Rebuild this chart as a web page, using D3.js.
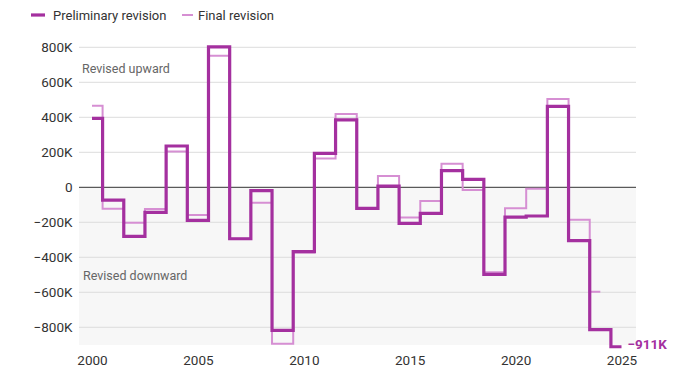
<!DOCTYPE html>
<html>
<head>
<meta charset="utf-8">
<script src="https://cdn.jsdelivr.net/npm/d3@7"></script>
<style>
  html, body { margin: 0; padding: 0; background: #fff; }
  svg { display: block; font-family: "Roboto", "Liberation Sans", sans-serif; }
</style>
</head>
<body>
<svg id="chart" width="682" height="378"></svg>
<script>
const years = d3.range(2000, 2026);
const preliminary = [394, -73, -280, -143, 236, -189, 803, -294, -19, -817,
  -368, 194, 385, -120, 7, -206, -149, 95, 45, -497,
  -170, -164, 463, -305, -813, -911];
const finalRev = [466, -122, -202, -124, 204, -158, 752, -294, -88, -894,
  -372, 165, 419, -120, 65, -173, -78, 135, -15, -486,
  -120, -8, 505, -185, -597];
const yTicks = [-800, -600, -400, -200, 0, 200, 400, 600, 800];
const xTicks = [2000, 2005, 2010, 2015, 2020, 2025];
const seriesNames = ["Preliminary revision", "Final revision"];

const svg = d3.select("#chart");
const plotLeft = 79, plotRight = 636, plotBottom = 345;

const x = d3.scaleLinear().domain([2000, 2025]).range([92, 621.5]);
const y = d3.scaleLinear().domain([-800, 800]).range([327.3, 47.3]);

const colPrelim = "#a4309f";
const colFinal = "#d68fd3";

// negative background
svg.append("rect")
  .attr("x", plotLeft).attr("y", y(0))
  .attr("width", plotRight - plotLeft).attr("height", plotBottom - y(0))
  .attr("fill", "#f7f7f7");

// gridlines
svg.append("g").selectAll("line").data(yTicks.filter(d => d !== 0)).join("line")
  .attr("x1", plotLeft).attr("x2", plotRight)
  .attr("y1", d => y(d)).attr("y2", d => y(d))
  .attr("stroke", "#dcdcdc").attr("stroke-width", 1);

// y labels
const yAxis = d3.axisLeft(y).tickValues(yTicks)
  .tickFormat(d => d === 0 ? "0" : (d < 0 ? "\u2212" : "") + Math.abs(d) + "K")
  .tickSize(0).tickPadding(0);
const gy = svg.append("g").attr("transform", `translate(72.5,0)`).call(yAxis);
gy.select(".domain").remove();
gy.selectAll("text").attr("font-size", 13.5).attr("fill", "#333")
  .attr("font-family", "Roboto, sans-serif");

// x labels
const xAxis = d3.axisBottom(x).tickValues(xTicks).tickFormat(d3.format("d"))
  .tickSize(0).tickPadding(0);
const gx = svg.append("g").attr("transform", `translate(0,355.5)`).call(xAxis);
gx.select(".domain").remove();
gx.selectAll("text").attr("font-size", 13.5).attr("fill", "#333")
  .attr("font-family", "Roboto, sans-serif");

// annotations
svg.append("text").attr("x", 82).attr("y", 73).text("Revised upward")
  .attr("font-size", 12.5).attr("fill", "#666");
svg.append("text").attr("x", 83).attr("y", 280).text("Revised downward")
  .attr("font-size", 12.5).attr("fill", "#666");

// zero line
svg.append("line").attr("x1", plotLeft).attr("x2", plotRight)
  .attr("y1", y(0)).attr("y2", y(0))
  .attr("stroke", "#333").attr("stroke-width", 1);

const line = d3.line().x(d => x(d[0])).y(d => y(d[1])).curve(d3.curveStep);

svg.append("path")
  .datum(finalRev.map((v, i) => [years[i], v]))
  .attr("d", line).attr("fill", "none")
  .attr("stroke", colFinal).attr("stroke-width", 2);

svg.append("path")
  .datum(preliminary.map((v, i) => [years[i], v]))
  .attr("d", line).attr("fill", "none")
  .attr("stroke", colPrelim).attr("stroke-width", 3.2);

// end label
const lastV = preliminary[preliminary.length - 1];
svg.append("text").attr("x", x(2025) + 6).attr("y", y(lastV) + 2.5)
  .text("\u2212" + Math.abs(lastV) + "K")
  .attr("font-size", 13.5).attr("font-weight", "bold").attr("fill", colPrelim);

// legend
const leg = svg.append("g");
leg.append("line").attr("x1", 31).attr("x2", 45).attr("y1", 15).attr("y2", 15)
  .attr("stroke", colPrelim).attr("stroke-width", 3.2);
leg.append("text").attr("x", 53).attr("y", 19.5).text(seriesNames[0])
  .attr("font-size", 13).attr("fill", "#333");
leg.append("line").attr("x1", 182).attr("x2", 193).attr("y1", 15).attr("y2", 15)
  .attr("stroke", colFinal).attr("stroke-width", 2);
leg.append("text").attr("x", 198).attr("y", 19.5).text(seriesNames[1])
  .attr("font-size", 13).attr("fill", "#333");
</script>
</body>
</html>
